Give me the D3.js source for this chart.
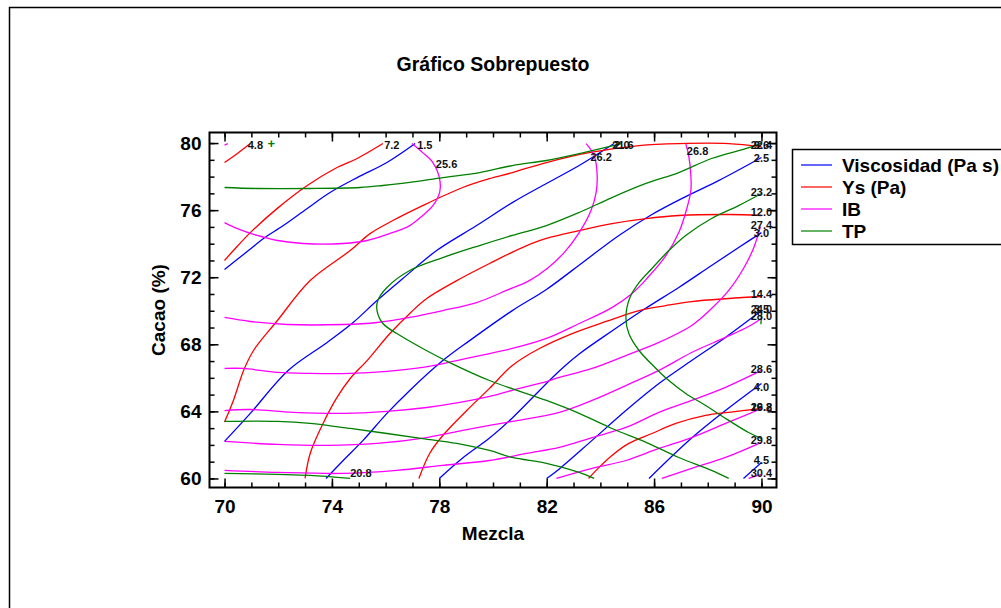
<!DOCTYPE html>
<html>
<head>
<meta charset="utf-8">
<script src="https://cdn.jsdelivr.net/npm/d3@7"></script>
<style>
  html, body { margin: 0; padding: 0; background: #fff; }
  svg { display: block; font-family: "Liberation Sans", Arial, Helvetica, sans-serif; }
</style>
</head>
<body>
<svg id="chart" width="1001" height="608"></svg>
<script>
// ---- Data: contour lines of the four response surfaces (Mezcla, Cacao) ----
const seriesNames = ["Viscosidad (Pa s)", "Ys (Pa)", "IB", "TP"];
const seriesColors = ["#0000ff", "#ff0000", "#ff00ff", "#008000"];

const xMajorTicks = [70, 74, 78, 82, 86, 90];
const yMajorTicks = [60, 64, 68, 72, 76, 80];

const viscosidadContours = [
  { level: "1.5", points: [[70,72.46],[70.89,73.59],[71.45,74.31],[72.19,75.08],[73.08,76.10],[73.93,77.05],[74.94,77.94],[76.05,78.84],[77.1,79.97]] },
  { level: "2.0", points: [[70,62.21],[70.96,63.88],[72.37,66.44],[73.82,68.11],[74.79,69.30],[75.68,70.61],[76.64,71.92],[77.90,73.59],[79.39,75.08],[80.72,76.45],[81.99,77.59],[83.21,78.66],[84.51,79.97]] },
  { level: "2.5", points: [[73.78,60],[74.42,61.07],[75.16,62.27],[76.05,63.88],[76.90,65.25],[78.13,67.03],[79.13,68.22],[80.72,70.01],[81.99,71.27],[83.39,72.94],[84.69,74.49],[85.92,75.74],[87.18,76.81],[88.40,77.76],[90,79.14]] },
  { level: "3.0", points: [[78.0,60],[78.87,61.22],[79.87,62.41],[80.72,63.61],[82.39,66.29],[83.21,67.42],[84.43,68.79],[85.70,70.16],[86.92,71.39],[88.14,72.70],[89.15,73.77],[90,74.66]] },
  { level: "3.5", points: [[82.0,60],[82.47,60.57],[83.69,62.27],[84.95,64.05],[86.18,65.66],[87.40,67.03],[88.66,68.41],[90,70.01]] },
  { level: "4.0", points: [[85.81,60],[87.40,62.41],[88.66,64.05],[90,65.66]] },
  { level: "4.5", points: [[89.33,60],[90,60.95]] }
];

const ysContours = [
  { level: "4.8", points: [[70,78.84],[70.48,79.38],[70.96,79.97]] },
  { level: "7.2", points: [[70,73.0],[70.33,73.59],[70.96,74.66],[72.0,76.15],[73.08,77.47],[74.19,78.54],[74.94,79.08],[75.90,79.97]] },
  { level: "9.6", points: [[70,63.37],[70.33,64.65],[70.71,66.44],[71.08,67.63],[71.97,69.42],[73.19,71.80],[74.68,73.59],[75.42,74.60],[76.27,75.38],[77.38,76.27],[78.87,77.35],[79.87,77.88],[80.72,78.24],[81.99,78.84],[83.58,79.43],[85.44,79.85],[86.92,79.97],[88.78,79.97],[90,79.79]] },
  { level: "12.0", points: [[73.0,60],[73.19,61.49],[73.67,63.28],[74.19,64.83],[74.68,65.96],[75.31,67.03],[76.16,68.64],[76.90,69.84],[77.53,70.73],[78.65,71.80],[79.87,72.82],[81.09,73.77],[81.99,74.31],[83.21,74.78],[84.43,75.20],[85.70,75.50],[86.92,75.68],[88.78,75.74],[90,75.68]] },
  { level: "14.4", points: [[77.24,60],[77.64,61.49],[78.13,62.56],[79.02,64.05],[79.87,65.37],[80.72,66.74],[81.73,67.75],[82.95,68.64],[84.21,69.36],[85.44,70.01],[86.44,70.31],[87.40,70.55],[88.78,70.73],[90,70.85]] },
  { level: "16.8", points: [[83.56,60],[83.95,60.66],[84.43,61.37],[85.06,62.09],[85.92,62.68],[86.81,63.28],[87.92,63.76],[88.78,63.94],[90,64.17]] }
];

const ibContours = [
  { level: "25.0", points: [[70,79.88],[70.12,79.97]] },
  { level: "25.6", points: [[70,75.26],[70.48,74.90],[71.22,74.49],[71.97,74.19],[72.93,74.01],[74.42,74.01],[75.31,74.19],[76.16,74.61],[76.90,75.08],[77.38,75.68],[77.76,76.27],[78.01,77.05],[78.01,77.88],[77.76,78.84],[77.38,79.43],[76.98,79.97]] },
  { level: "26.2", points: [[70,69.60],[70.96,69.36],[72.34,69.18],[74.42,69.18],[75.68,69.30],[76.90,69.60],[78.13,70.01],[79.39,70.49],[80.50,71.21],[81.35,71.80],[82.02,72.52],[82.65,73.47],[83.21,74.66],[83.65,75.98],[83.84,77.05],[83.88,78.06],[83.77,79.25],[83.47,79.97]] },
  { level: "26.8", points: [[70,66.56],[70.71,66.56],[71.97,66.32],[73.19,66.26],[74.68,66.26],[76.05,66.38],[77.38,66.62],[78.65,67.03],[79.87,67.45],[80.72,67.75],[81.99,68.35],[83.21,69.24],[84.43,70.19],[85.18,71.03],[85.73,71.92],[86.44,73.29],[86.92,74.66],[87.22,76.10],[87.37,77.17],[87.37,78.06],[87.29,79.25],[87.18,79.97]] },
  { level: "27.4", points: [[70,64.05],[70.96,64.11],[72.56,63.94],[74.42,63.88],[76.05,64.0],[77.53,64.23],[78.76,64.53],[79.87,64.89],[80.98,65.37],[81.99,65.78],[82.47,66.02],[83.69,66.56],[84.95,67.33],[86.18,68.11],[87.40,69.12],[88.14,70.13],[88.78,71.21],[89.33,72.52],[89.70,73.71],[89.96,75.02]] },
  { level: "28.0", points: [[70,62.21],[71.97,62.03],[73.82,61.97],[75.68,62.09],[77.53,62.44],[78.87,62.86],[79.87,63.16],[80.72,63.40],[82.47,63.94],[83.69,64.65],[84.95,65.54],[86.18,66.44],[87.40,67.51],[88.66,68.41],[89.52,69.06],[90,69.54]] },
  { level: "28.6", points: [[70,60.48],[71.97,60.36],[74.42,60.30],[76.42,60.48],[78.13,60.78],[79.87,61.07],[81.24,61.49],[82.47,61.85],[83.69,62.44],[84.95,63.04],[86.18,63.94],[87.40,64.65],[88.66,65.43],[90,66.44]] },
  { level: "29.2", points: [[82.36,60],[83.69,60.60],[84.95,61.07],[86.18,61.79],[87.40,62.44],[88.66,63.28],[90,64.17]] },
  { level: "29.8", points: [[86.29,60],[87.40,60.60],[88.66,61.25],[90,62.15]] },
  { level: "30.4", points: [[89.52,60],[90,60.24]] }
];

const tpContours = [
  { level: "20.8", points: [[70,60.30],[71.97,60.24],[73.19,60.18],[74.68,60.0]] },
  { level: "21.6", points: [[70,63.40],[71.97,63.40],[73.19,63.28],[74.68,62.98],[76.05,62.68],[77.38,62.38],[78.65,62.09],[79.87,61.67],[80.72,61.25],[81.99,60.90],[83.21,60.36],[83.77,60.0]] },
  { level: "21.6", points: [[70,77.35],[71.22,77.29],[73.19,77.29],[75.05,77.35],[75.90,77.47],[76.90,77.65],[78.13,77.94],[79.50,78.24],[80.72,78.66],[81.99,78.96],[83.21,79.37],[84.77,79.97]] },
  { level: "22.4", points: [[90,80],[89.41,79.67],[88.14,79.08],[86.92,78.24],[85.70,77.59],[84.43,76.75],[83.21,75.86],[81.99,75.08],[80.72,74.49],[79.50,73.89],[78.13,73.17],[76.90,72.40],[76.05,71.39],[75.71,70.61],[75.68,70.01],[75.90,69.24],[76.42,68.64],[77.38,67.75],[78.39,66.91],[79.87,65.84],[81.99,64.65],[83.21,63.88],[84.43,62.98],[85.70,62.15],[86.92,61.25],[88.14,60.48],[88.78,60]] },
  { level: "23.2", points: [[90,76.99],[89.15,76.27],[88.14,75.50],[87.18,74.49],[86.55,73.59],[85.92,72.52],[85.44,71.68],[85.10,70.79],[84.95,69.60],[85.06,68.64],[85.44,67.63],[86.07,66.56],[86.55,65.84],[87.18,65.07],[87.92,64.35],[88.78,63.46],[89.52,62.74],[90,62.38]] },
  { level: "24.0", points: [[90,69.75],[89.98,69.2]] }
];

// Level labels written on the plot: [text, Mezcla, Cacao]
const contourLabels = [
  ["4.8", 71.15, 79.91], ["7.2", 76.23, 79.91], ["1.5", 77.46, 79.91],
  ["25.6", 78.27, 78.75], ["2.0", 84.8, 79.91], ["21.6", 84.84, 79.91],
  ["26.2", 84.03, 79.14], ["26.8", 87.62, 79.55],
  ["22.4", 90, 79.91], ["9.6", 90, 79.91], ["2.5", 90, 79.11],
  ["23.2", 90, 77.05], ["12.0", 90, 75.86], ["27.4", 90, 75.14], ["3.0", 90, 74.66],
  ["14.4", 90, 70.97], ["24.0", 90, 70.13], ["3.5", 90, 70.13], ["28.0", 90, 69.66],
  ["28.6", 90, 66.5], ["4.0", 90, 65.43], ["16.8", 90, 64.23], ["29.2", 90, 64.23],
  ["29.8", 90, 62.27], ["4.5", 90, 61.07], ["30.4", 90, 60.3], ["20.8", 75.08, 60.3]
];
// Small TP region marker near the top-left corner
const tpMarker = [71.74, 79.97];

// ---- Layout ----
const svg = d3.select("#chart");
const frame = { left: 209.5, right: 776.5, top: 132.5, bottom: 487.5 };

const x = d3.scaleLinear().domain([69.44, 90.56]).range([frame.left, frame.right]);
const y = d3.scaleLinear().domain([59.46, 80.63]).range([frame.bottom, frame.top]);

// Outer border
svg.append("rect")
  .attr("x", 9.5).attr("y", 7.5).attr("width", 1100).attr("height", 700)
  .attr("fill", "none").attr("stroke", "#000").attr("stroke-width", 1.5);

// Title
svg.append("text")
  .attr("x", 493).attr("y", 71)
  .attr("text-anchor", "middle")
  .attr("font-size", 19.5).attr("font-weight", "bold")
  .text("Gráfico Sobrepuesto");

// ---- Contour lines ----
const line = d3.line()
  .x(d => x(d[0])).y(d => y(d[1]))
  .curve(d3.curveCatmullRom.alpha(0.5));

const plot = svg.append("g");
[viscosidadContours, ysContours, ibContours, tpContours].forEach((set, i) => {
  plot.append("g")
    .selectAll("path")
    .data(set)
    .join("path")
    .attr("d", d => line(d.points))
    .attr("fill", "none")
    .attr("stroke", seriesColors[i])
    .attr("stroke-width", 1.3);
});

// TP marker
svg.append("text")
  .attr("x", x(tpMarker[0])).attr("y", y(tpMarker[1]))
  .attr("dy", "0.35em")
  .attr("text-anchor", "middle")
  .attr("font-size", 13).attr("font-weight", "bold")
  .attr("fill", "#008000")
  .text("+");

// Contour level labels
svg.append("g")
  .selectAll("text")
  .data(contourLabels)
  .join("text")
  .attr("x", d => x(d[1])).attr("y", d => y(d[2]))
  .attr("dy", "0.36em")
  .attr("text-anchor", "middle")
  .attr("font-size", 11).attr("font-weight", "bold")
  .attr("fill", "#111")
  .text(d => d[0]);

// ---- Axes (ticks point inward on all four sides) ----
const xMinor = d3.range(70, 91, 1);
const yMinor = d3.range(60, 81, 1);

function styleAxis(g) {
  g.select(".domain").remove();
  g.selectAll(".tick line").attr("stroke", "#000").attr("stroke-width", 1.5);
  g.selectAll("text")
    .attr("font-family", "\"Liberation Sans\", Arial, sans-serif")
    .attr("font-size", 19).attr("font-weight", "bold").attr("fill", "#000");
}

// bottom
svg.append("g").attr("transform", `translate(0,${frame.bottom})`)
  .call(d3.axisBottom(x).tickValues(xMinor).tickSize(-5).tickFormat(""))
  .call(styleAxis);
svg.append("g").attr("transform", `translate(0,${frame.bottom})`)
  .call(d3.axisBottom(x).tickValues(xMajorTicks).tickSize(-9).tickPadding(12).tickFormat(d3.format("d")))
  .call(styleAxis);
// top
svg.append("g").attr("transform", `translate(0,${frame.top})`)
  .call(d3.axisTop(x).tickValues(xMinor).tickSize(-5).tickFormat(""))
  .call(styleAxis);
svg.append("g").attr("transform", `translate(0,${frame.top})`)
  .call(d3.axisTop(x).tickValues(xMajorTicks).tickSize(-9).tickFormat(""))
  .call(styleAxis);
// left
svg.append("g").attr("transform", `translate(${frame.left},0)`)
  .call(d3.axisLeft(y).tickValues(yMinor).tickSize(-5).tickFormat(""))
  .call(styleAxis);
svg.append("g").attr("transform", `translate(${frame.left},0)`)
  .call(d3.axisLeft(y).tickValues(yMajorTicks).tickSize(-9).tickPadding(8).tickFormat(d3.format("d")))
  .call(styleAxis);
// right
svg.append("g").attr("transform", `translate(${frame.right},0)`)
  .call(d3.axisRight(y).tickValues(yMinor).tickSize(-5).tickFormat(""))
  .call(styleAxis);
svg.append("g").attr("transform", `translate(${frame.right},0)`)
  .call(d3.axisRight(y).tickValues(yMajorTicks).tickSize(-9).tickFormat(""))
  .call(styleAxis);

// Plot frame
svg.append("rect")
  .attr("x", frame.left).attr("y", frame.top)
  .attr("width", frame.right - frame.left).attr("height", frame.bottom - frame.top)
  .attr("fill", "none").attr("stroke", "#000").attr("stroke-width", 2);

// Axis titles
svg.append("text")
  .attr("x", 493).attr("y", 540)
  .attr("text-anchor", "middle")
  .attr("font-size", 19).attr("font-weight", "bold")
  .text("Mezcla");
svg.append("text")
  .attr("transform", "translate(165,310) rotate(-90)")
  .attr("text-anchor", "middle")
  .attr("font-size", 19).attr("font-weight", "bold")
  .text("Cacao (%)");

// ---- Legend ----
const legend = svg.append("g");
legend.append("rect")
  .attr("x", 792.5).attr("y", 149.5).attr("width", 300).attr("height", 95)
  .attr("fill", "#fff").attr("stroke", "#000").attr("stroke-width", 1.5);
const entries = legend.selectAll("g.entry")
  .data(seriesNames)
  .join("g")
  .attr("class", "entry")
  .attr("transform", (d, i) => `translate(0,${165 + i * 22})`);
entries.append("line")
  .attr("x1", 801).attr("x2", 832)
  .attr("stroke", (d, i) => seriesColors[i]).attr("stroke-width", 1.2);
entries.append("text")
  .attr("x", 842).attr("dy", "0.36em")
  .attr("font-size", 19).attr("font-weight", "bold")
  .text(d => d);
</script>
</body>
</html>
